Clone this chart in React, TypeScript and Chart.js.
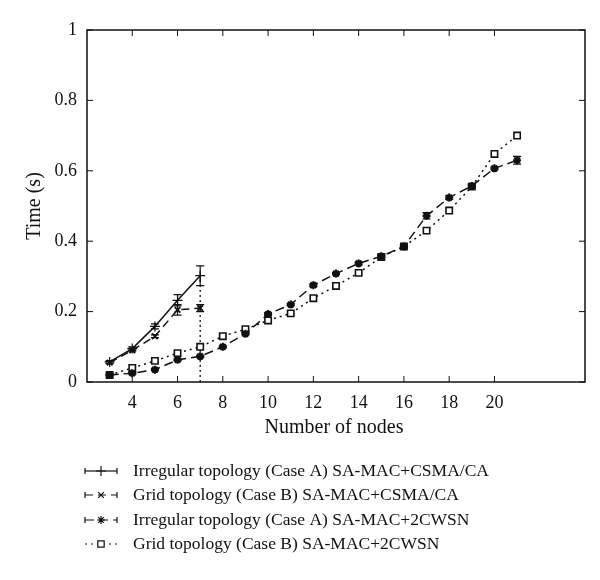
import React, { useEffect, useRef } from "react";
import { Chart, registerables } from "chart.js";
import { drawPoint } from "chart.js/helpers";

Chart.register(...registerables);

// ---- data ----
const nodesShort = [3, 4, 5, 6, 7];
const irregularCsma = [0.057, 0.095, 0.158, 0.232, 0.302];
const irregularCsmaErr = [0.004, 0.005, 0.007, 0.016, 0.028];
const gridCsma = [0.055, 0.09, 0.13, 0.205, 0.21];
const gridCsmaErr = [0.003, 0.004, 0.004, 0.015, 0.01];

const nodesLong = [3, 4, 5, 6, 7, 8, 9, 10, 11, 12, 13, 14, 15, 16, 17, 18, 19, 20, 21];
const irregular2c = [0.02, 0.025, 0.035, 0.063, 0.073, 0.1, 0.137, 0.193, 0.22, 0.275, 0.308, 0.337, 0.357, 0.385, 0.472, 0.524, 0.557, 0.607, 0.63];
const irregular2cErr = [0.003, 0.003, 0.003, 0.003, 0.003, 0.003, 0.003, 0.004, 0.003, 0.004, 0.003, 0.004, 0.004, 0.003, 0.009, 0.005, 0.005, 0.004, 0.011];
const grid2c = [0.02, 0.04, 0.06, 0.082, 0.1, 0.13, 0.15, 0.175, 0.195, 0.238, 0.273, 0.31, 0.355, 0.385, 0.43, 0.487, 0.555, 0.648, 0.7];

const dropX = [7, 7];
const dropY = [0, 0.3];

const xTickValues = [4, 6, 8, 10, 12, 14, 16, 18, 20];
const yTickValues = [0, 0.2, 0.4, 0.6, 0.8, 1];

const legendLabels = [
  "Irregular topology (Case A) SA-MAC+CSMA/CA",
  "Grid topology (Case B) SA-MAC+CSMA/CA",
  "Irregular topology (Case A) SA-MAC+2CWSN",
  "Grid topology (Case B) SA-MAC+2CWSN",
];

const FONT = '"Liberation Serif", "DejaVu Serif", serif';
const INK = "#111";

const pts = (xs: number[], ys: number[]) => xs.map((x, i) => ({ x, y: ys[i] }));

const errorSets: (number[] | null)[] = [irregularCsmaErr, gridCsmaErr, irregular2cErr, null, null];

const overlay = {
  id: "overlay",
  afterDatasetsDraw(chart: any) {
    const { ctx, chartArea: a, scales } = chart;
    const xs = scales.x;
    const ys = scales.y;
    ctx.save();
    ctx.strokeStyle = INK;
    ctx.lineWidth = 1.5;
    ctx.setLineDash([]);
    ctx.strokeRect(a.left, a.top, a.right - a.left, a.bottom - a.top);
    ctx.lineWidth = 1;
    ctx.beginPath();
    xTickValues.forEach((v) => {
      const px = xs.getPixelForValue(v);
      ctx.moveTo(px, a.bottom);
      ctx.lineTo(px, a.bottom - 6);
      ctx.moveTo(px, a.top);
      ctx.lineTo(px, a.top + 6);
    });
    yTickValues.forEach((v) => {
      const py = ys.getPixelForValue(v);
      ctx.moveTo(a.left, py);
      ctx.lineTo(a.left + 6, py);
      ctx.moveTo(a.right, py);
      ctx.lineTo(a.right - 6, py);
    });
    ctx.stroke();
    // error bars
    ctx.lineWidth = 1.2;
    chart.data.datasets.forEach((ds: any, di: number) => {
      const errs = errorSets[di];
      if (!errs) return;
      ds.data.forEach((p: any, i: number) => {
        const e = errs[i];
        if (!e) return;
        const px = xs.getPixelForValue(p.x);
        const y1 = ys.getPixelForValue(p.y - e);
        const y2 = ys.getPixelForValue(p.y + e);
        ctx.beginPath();
        ctx.moveTo(px, y1);
        ctx.lineTo(px, y2);
        ctx.moveTo(px - 4, y1);
        ctx.lineTo(px + 4, y1);
        ctx.moveTo(px - 4, y2);
        ctx.lineTo(px + 4, y2);
        ctx.stroke();
      });
    });
    ctx.restore();
  },
  afterDraw(chart: any) {
    const { ctx, chartArea: a } = chart;
    ctx.save();
    ctx.fillStyle = INK;
    ctx.font = `20px ${FONT}`;
    ctx.textAlign = "center";
    ctx.textBaseline = "middle";
    ctx.fillText("Number of nodes", (a.left + a.right) / 2 - 2, 428);
    ctx.save();
    ctx.translate(35, (a.top + a.bottom) / 2);
    ctx.rotate(-Math.PI / 2);
    ctx.fillText("Time (s)", 0, 0);
    ctx.restore();

    // legend
    const rowY = [471, 495, 520, 544];
    const x0 = 85;
    const x1 = 117;
    ctx.font = `17.5px ${FONT}`;
    ctx.textAlign = "left";
    chart.data.datasets.slice(0, 4).forEach((ds: any, i: number) => {
      const y = rowY[i];
      ctx.strokeStyle = INK;
      ctx.lineWidth = 1.2;
      ctx.setLineDash(ds.borderDash || []);
      ctx.beginPath();
      ctx.moveTo(x0, y);
      ctx.lineTo(x1, y);
      ctx.stroke();
      ctx.setLineDash([]);
      if (i < 3) {
        ctx.beginPath();
        ctx.moveTo(x0, y - 3);
        ctx.lineTo(x0, y + 3);
        ctx.moveTo(x1, y - 3);
        ctx.lineTo(x1, y + 3);
        ctx.stroke();
      }
      ctx.fillStyle = ds.pointBackgroundColor || "#fff";
      ctx.strokeStyle = INK;
      drawPoint(ctx, {
        pointStyle: ds.pointStyle,
        rotation: 0,
        radius: ds.pointRadius,
        borderWidth: ds.pointBorderWidth,
      } as any, (x0 + x1) / 2, y);
      ctx.fillStyle = INK;
      ctx.fillText(legendLabels[i], 133, y);
    });
    ctx.restore();
  },
};

export default function App() {
  const ref = useRef<HTMLCanvasElement>(null);
  useEffect(() => {
    if (!ref.current) return;
    const chart = new Chart(ref.current, {
      type: "line",
      data: {
        datasets: [
          {
            label: legendLabels[0],
            data: pts(nodesShort, irregularCsma),
            borderColor: INK,
            borderWidth: 1.5,
            pointStyle: "cross",
            pointRadius: 5,
            pointBorderWidth: 1.2,
            pointBorderColor: INK,
            pointBackgroundColor: INK,
            tension: 0,
          },
          {
            label: legendLabels[1],
            data: pts(nodesShort, gridCsma),
            borderColor: INK,
            borderWidth: 1.5,
            borderDash: [8, 5],
            pointStyle: "crossRot",
            pointRadius: 4,
            pointBorderWidth: 1.8,
            pointBorderColor: INK,
            pointBackgroundColor: INK,
          },
          {
            label: legendLabels[2],
            data: pts(nodesLong, irregular2c),
            borderColor: INK,
            borderWidth: 1.5,
            borderDash: [9, 5],
            pointStyle: "star",
            pointRadius: 4,
            pointBorderWidth: 2.2,
            pointBorderColor: INK,
            pointBackgroundColor: INK,
          },
          {
            label: legendLabels[3],
            data: pts(nodesLong, grid2c),
            borderColor: INK,
            borderWidth: 1.5,
            borderDash: [2, 4],
            pointStyle: "rect",
            pointRadius: 4.5,
            pointBorderWidth: 1.6,
            pointBorderColor: INK,
            pointBackgroundColor: "#fff",
          },
          {
            label: "drop",
            data: pts(dropX, dropY),
            borderColor: INK,
            borderWidth: 1.3,
            borderDash: [2, 3],
            pointRadius: 0,
          },
        ],
      },
      options: {
        animation: false,
        responsive: false,
        layout: { padding: { left: 0, right: 15, top: 30, bottom: 0 } },
        plugins: { legend: { display: false }, tooltip: { enabled: false } },
        scales: {
          x: {
            type: "linear",
            min: 2,
            max: 24,
            afterBuildTicks: (s: any) => {
              s.ticks = xTickValues.map((v) => ({ value: v }));
            },
            afterFit: (s: any) => {
              s.height = 198;
            },
            grid: { display: false, drawTicks: false },
            border: { display: false },
            ticks: {
              padding: 10,
              autoSkip: false,
              maxRotation: 0,
              color: INK,
              font: { family: FONT, size: 18 },
              callback: (v: any) => String(v),
            },
          },
          y: {
            min: 0,
            max: 1,
            afterBuildTicks: (s: any) => {
              s.ticks = yTickValues.map((v) => ({ value: v }));
            },
            afterFit: (s: any) => {
              s.width = 87;
            },
            grid: { display: false, drawTicks: false },
            border: { display: false },
            ticks: {
              padding: 10,
              color: INK,
              font: { family: FONT, size: 18 },
              callback: (v: any) => (v === 0 ? "0" : v === 1 ? "1" : Number(v).toFixed(1)),
            },
          },
        },
      },
      plugins: [overlay],
    });
    return () => chart.destroy();
  }, []);
  return (
    <div style={{ position: "absolute", left: 0, top: 0, width: 600, height: 580, background: "#fff" }}>
      <canvas ref={ref} width={600} height={580} style={{ display: "block" }} />
    </div>
  );
}
